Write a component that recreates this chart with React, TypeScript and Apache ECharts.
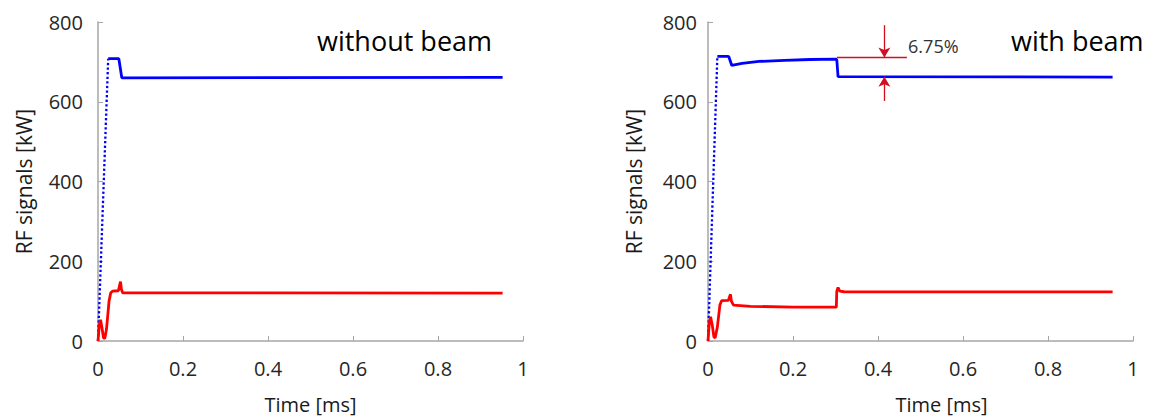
import React, { useEffect, useRef } from "react";
import * as echarts from "echarts";

// Time axis in ms, RF power in kW
const xTicks = [0, 0.2, 0.4, 0.6, 0.8, 1];
const yTicks = [0, 200, 400, 600, 800];

// Without beam: forward (blue) and reflected (red) RF signals
const noBeamBlueRamp: [number, number][] = [[0, 0], [0.024, 708]];
const noBeamBlue: [number, number][] = [
  [0.024, 708], [0.049, 708], [0.056, 660], [0.952, 661],
];
const noBeamRed: [number, number][] = [
  [0, 0], [0.003, 40], [0.006, 53], [0.009, 35], [0.013, 8], [0.016, 6],
  [0.02, 30], [0.026, 100], [0.03, 121], [0.034, 125], [0.048, 126],
  [0.051, 140], [0.053, 149], [0.055, 130], [0.058, 121], [0.952, 120],
];

// With beam: beam loading changes at ~0.3 ms
const beamBlueRamp: [number, number][] = [[0, 0], [0.022, 714]];
const beamBlue: [number, number][] = [
  [0.022, 714], [0.045, 714], [0.049, 713], [0.056, 691], [0.08, 696],
  [0.12, 701], [0.18, 704], [0.24, 706], [0.3, 707], [0.303, 706],
  [0.306, 663], [0.952, 662],
];
const beamRed: [number, number][] = [
  [0, 0], [0.003, 45], [0.006, 61], [0.01, 40], [0.014, 10], [0.017, 8],
  [0.022, 35], [0.028, 90], [0.032, 101], [0.048, 102], [0.051, 112],
  [0.053, 117], [0.055, 100], [0.06, 90], [0.1, 87], [0.2, 85],
  [0.302, 85], [0.303, 125], [0.306, 134], [0.31, 125], [0.32, 123.5],
  [0.952, 123],
];

// Drop annotation on the forward signal
const dropTime = 0.303;
const dropLevelHigh = 711;
const dropLevelLow = 663;
const dropArrowTime = 0.415;
const dropLineEnd = 0.468;
const dropArrowTop = 792;
const dropArrowBottom = 602;
const dropLabel = "6.75%";
const dropLabelPos: [number, number] = [0.459, 739];

const titles = ["without beam", "with beam"];

const FONT = "'Open Sans', 'Noto Sans', sans-serif";
const BLUE = "#0000ff";
const RED = "#ff0000";
const ANNOT = "#d01020";

function makeX(gridIndex: number) {
  return {
    type: "value" as const,
    gridIndex,
    min: xTicks[0],
    max: xTicks[xTicks.length - 1],
    interval: 0.2,
    name: "Time [ms]",
    nameLocation: "middle" as const,
    nameGap: 53,
    nameTextStyle: {
      fontFamily: FONT,
      fontSize: 20,
      color: "#1a1a1a",
      padding: gridIndex === 1 ? [0, 0, 0, 42] : 0,
    },
    axisLine: { show: true, lineStyle: { color: "#a6a6a6", width: 1.5 } },
    axisTick: { show: true, inside: true, length: 5, lineStyle: { color: "#a6a6a6" } },
    splitLine: { show: false },
    axisLabel: {
      fontFamily: FONT,
      fontSize: 20,
      color: "#262626",
      margin: 17,
      formatter: (v: number) => String(Number(v.toFixed(1))),
    },
  };
}

function makeY(gridIndex: number) {
  return {
    type: "value" as const,
    gridIndex,
    min: yTicks[0],
    max: yTicks[yTicks.length - 1],
    interval: 200,
    name: "RF signals [kW]",
    nameLocation: "middle" as const,
    nameGap: 64,
    nameTextStyle: { fontFamily: FONT, fontSize: 21, color: "#1a1a1a" },
    axisLine: { show: true, lineStyle: { color: "#a6a6a6", width: 1.5 } },
    axisTick: { show: true, inside: true, length: 5, lineStyle: { color: "#a6a6a6" } },
    splitLine: { show: false },
    axisLabel: {
      fontFamily: FONT,
      fontSize: 20,
      color: "#262626",
      margin: gridIndex === 0 ? 15 : 11,
    },
  };
}

function line(
  data: [number, number][],
  idx: number,
  color: string,
  dotted = false,
  extra: Record<string, unknown> = {}
) {
  return {
    type: "line" as const,
    xAxisIndex: idx,
    yAxisIndex: idx,
    data,
    showSymbol: false,
    symbol: "none",
    silent: true,
    lineStyle: { color, width: dotted ? 2.3 : 2.8, type: dotted ? ("dotted" as const) : ("solid" as const) },
    ...extra,
  };
}

export default function App() {
  const ref = useRef<HTMLDivElement>(null);

  useEffect(() => {
    if (!ref.current) return;
    const chart = echarts.init(ref.current, undefined, { renderer: "svg" });

    const annotation = {
      markLine: {
        silent: true,
        symbol: ["none", "arrow"],
        symbolSize: [9, 10],
        label: { show: false },
        lineStyle: { color: ANNOT, width: 1.3, type: "solid" },
        emphasis: { disabled: true },
        data: [
          [
            { coord: [dropTime, dropLevelHigh], symbol: "none" },
            { coord: [dropLineEnd, dropLevelHigh], symbol: "none" },
          ],
          [
            { coord: [dropArrowTime, dropArrowTop] },
            { coord: [dropArrowTime, dropLevelHigh] },
          ],
          [
            { coord: [dropArrowTime, dropArrowBottom] },
            { coord: [dropArrowTime, dropLevelLow] },
          ],
        ],
      },
      markPoint: {
        silent: true,
        symbol: "circle",
        symbolSize: 0,
        data: [
          {
            coord: dropLabelPos,
            label: {
              show: true,
              position: "right",
              distance: 5,
              formatter: dropLabel,
              fontFamily: FONT,
              fontSize: 18,
              color: "#333333",
            },
          },
        ],
      },
    };

    const titleStyle = { fontFamily: FONT, fontSize: 27, fontWeight: "normal", color: "#000000" };

    chart.setOption({
      animation: false,
      backgroundColor: "#ffffff",
      title: [
        { text: titles[0], left: 317, top: 27, padding: 0, textStyle: titleStyle },
        { text: titles[1], left: 1011, top: 27, padding: 0, textStyle: titleStyle },
      ],
      grid: [
        { left: 98, top: 22, width: 425, height: 319 },
        { left: 708, top: 22, width: 425, height: 322 },
      ],
      xAxis: [makeX(0), makeX(1)],
      yAxis: [makeY(0), makeY(1)],
      series: [
        line(noBeamBlueRamp, 0, BLUE, true),
        line(noBeamBlue, 0, BLUE),
        line(noBeamRed, 0, RED),
        line(beamBlueRamp, 1, BLUE, true),
        line(beamBlue, 1, BLUE, false, annotation),
        line(beamRed, 1, RED),
      ],
    });

    return () => chart.dispose();
  }, []);

  return (
    <div
      ref={ref}
      style={{ position: "fixed", left: 0, top: 0, width: 1151, height: 419, background: "#fff" }}
    />
  );
}
